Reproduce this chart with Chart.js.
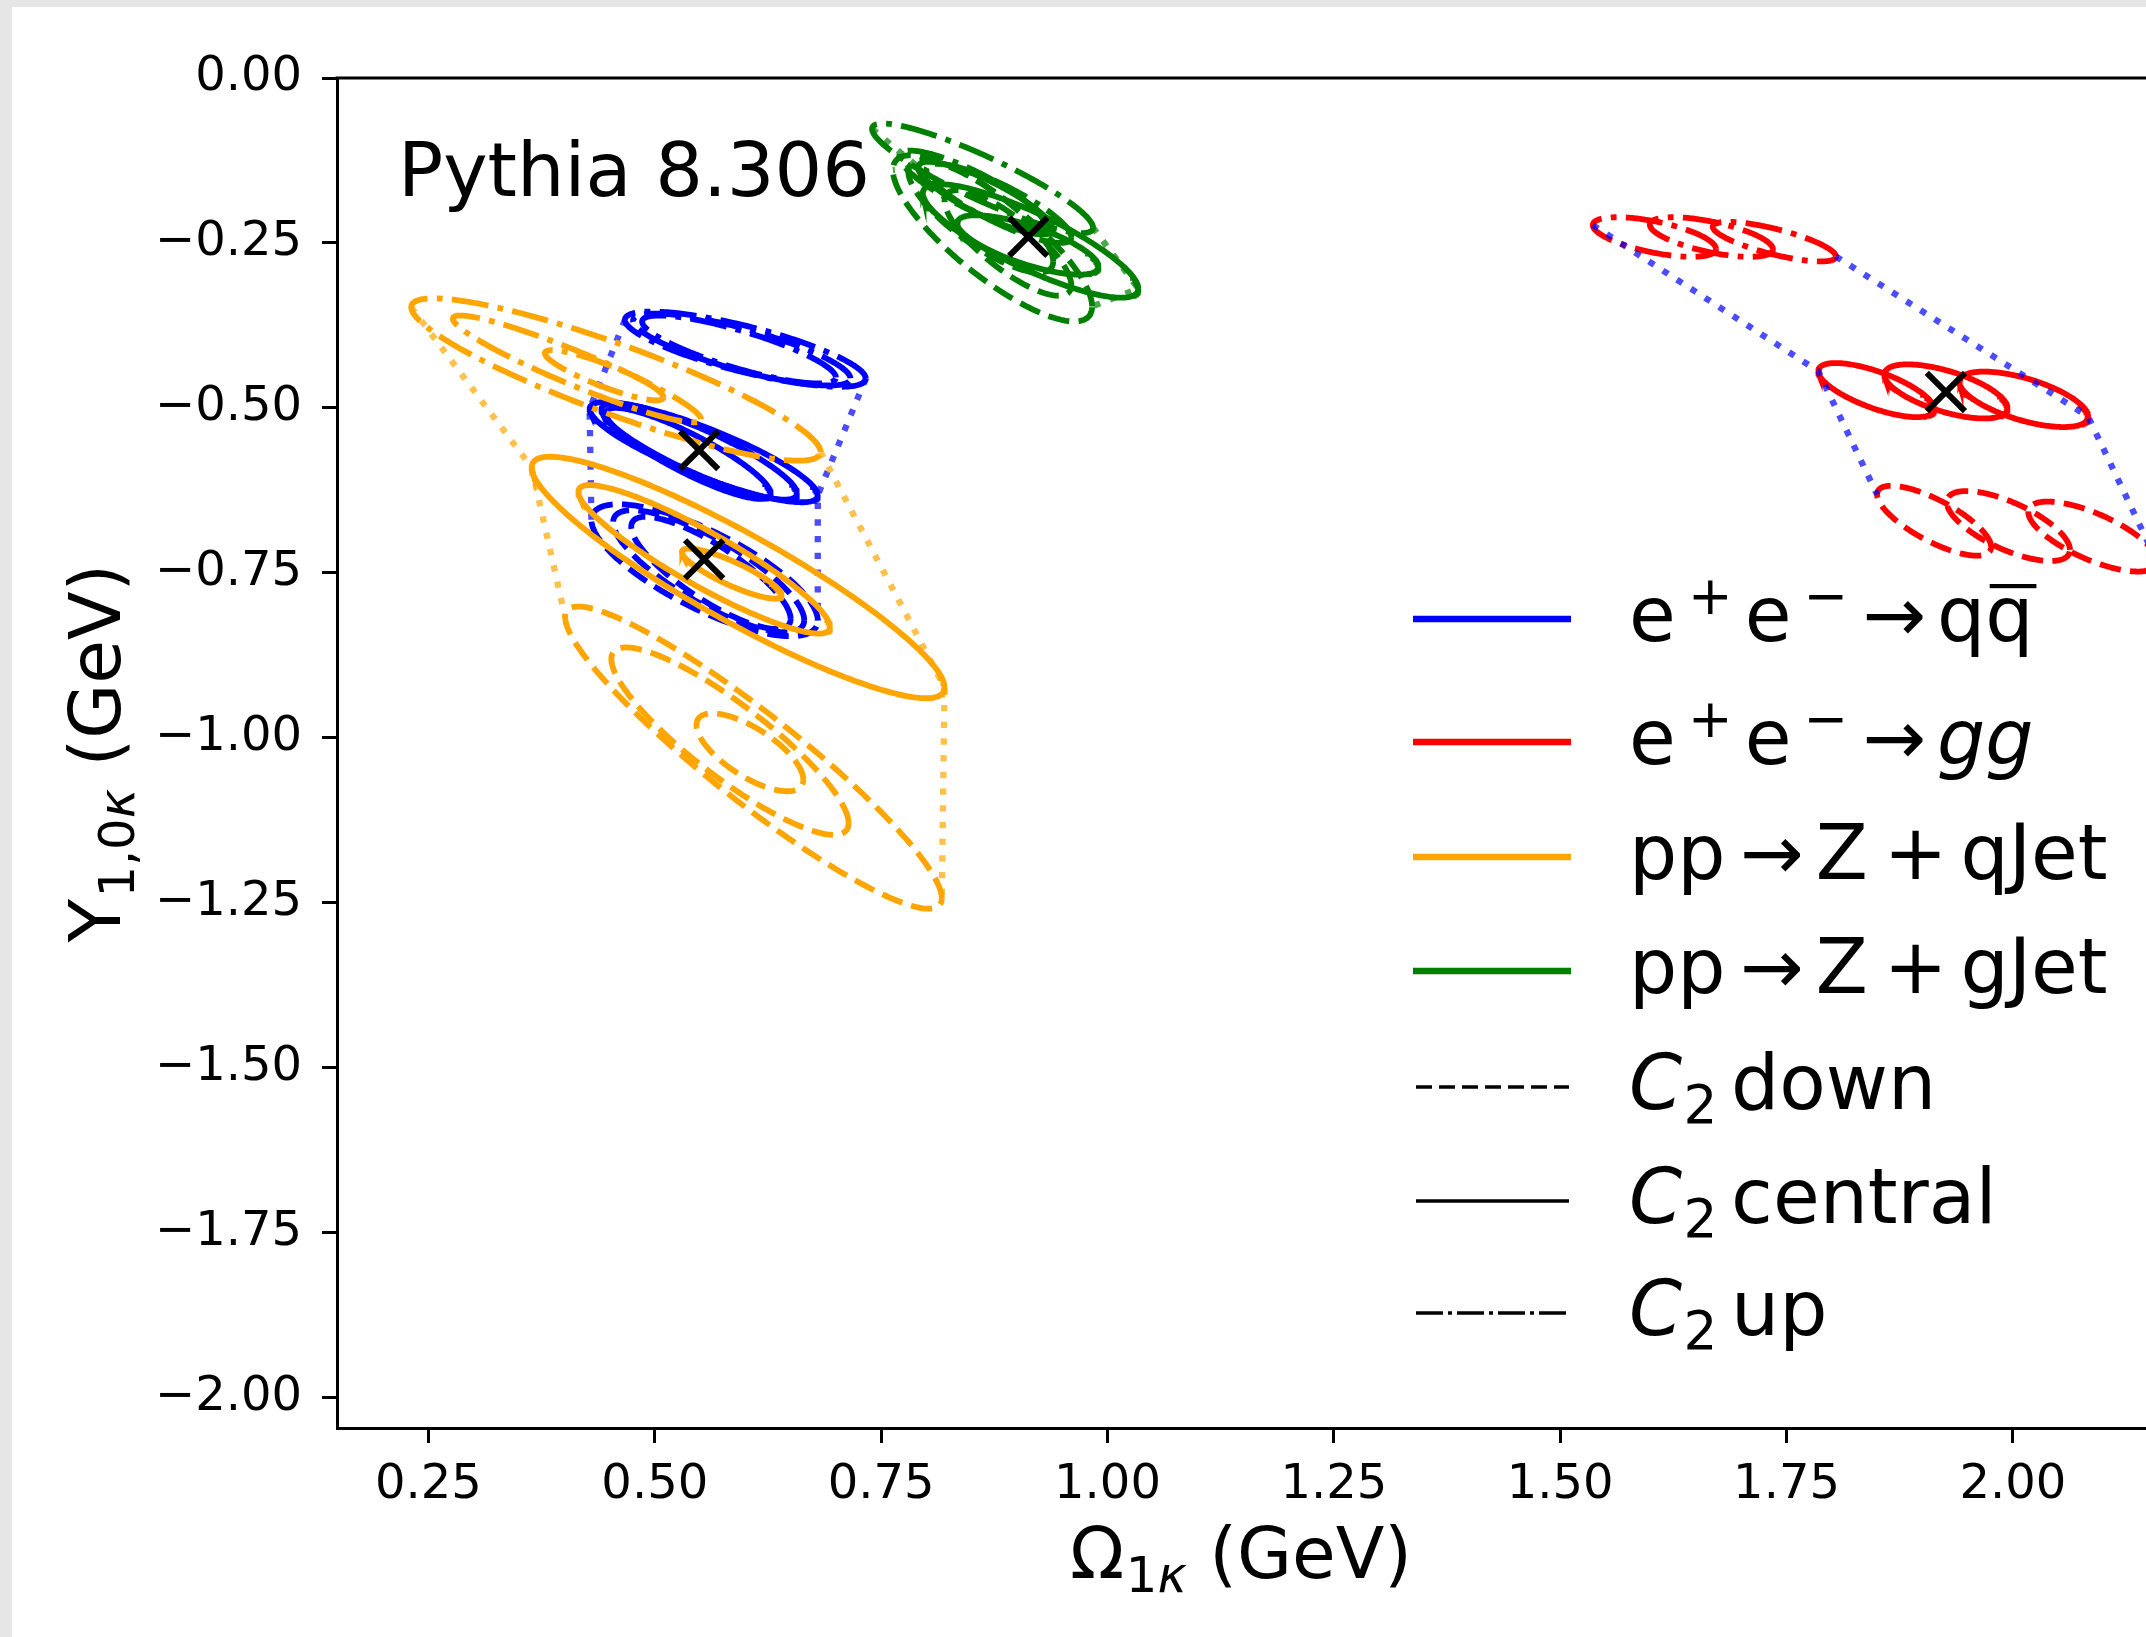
<!DOCTYPE html>
<html><head><meta charset="utf-8">
<script src="https://cdn.jsdelivr.net/npm/chart.js@4/dist/chart.umd.min.js"></script>
<style>
html,body{margin:0;padding:0;background:#e6e6e6;overflow:hidden;width:2146px;height:1637px;}
#wrap{position:absolute;left:12px;top:7px;width:2134px;height:1630px;background:#fff;}
canvas{display:block;}
</style></head><body>
<div id="wrap"><canvas id="c" width="2134" height="1630"></canvas></div>
<script>
// ---------------- data ----------------
const xTicks = [0.25, 0.50, 0.75, 1.00, 1.25, 1.50, 1.75, 2.00];
const yTicks = [0.00, -0.25, -0.50, -0.75, -1.00, -1.25, -1.50, -1.75, -2.00];
const xRange = [0.149, 2.147];
const yRange = [-2.046, 0.0];

const variants = ['down', 'central', 'up'];   // C2 variations, 3 ellipses each

// e+e- -> q qbar   (order: down x3, central x3, up x3)
const qqCx  = [0.555, 0.5595, 0.562,  0.554, 0.549, 0.537,  0.600, 0.596, 0.593];
const qqCy  = [-0.746, -0.7475, -0.750, -0.567, -0.566, -0.569, -0.411, -0.4115, -0.4115];
const qqSx  = [0.125, 0.1055, 0.088,  0.126, 0.108, 0.091,  0.133, 0.120, 0.107];
const qqSy  = [0.100, 0.0925, 0.085,  0.076, 0.073, 0.069,  0.057, 0.0545, 0.0515];
const qqRho = [-0.76, -0.80, -0.82,  -0.86, -0.87, -0.88,  -0.78, -0.80, -0.82];

// e+e- -> g g
const ggCx  = [1.913, 1.995, 2.088,  1.849, 1.926, 2.012,  1.604, 1.667, 1.7365];
const ggCy  = [-0.671, -0.679, -0.695, -0.473, -0.475, -0.487, -0.241, -0.241, -0.248];
const ggSx  = [0.063, 0.068, 0.071,  0.064, 0.068, 0.071,  0.068, 0.068, 0.068];
const ggSy  = [0.053, 0.053, 0.053,  0.041, 0.041, 0.042,  0.030, 0.030, 0.030];
const ggRho = [-0.75, -0.68, -0.70,  -0.70, -0.62, -0.62,  -0.60, -0.62, -0.75];

// pp -> Z + qJet
const qjCx  = [0.609, 0.583, 0.605,  0.592, 0.5545, 0.585,  0.457, 0.414, 0.444];
const qjCy  = [-1.030, -1.005, -1.022, -0.757, -0.7295, -0.751, -0.457, -0.441, -0.4505];
const qjSx  = [0.208, 0.131, 0.059,  0.228, 0.139, 0.055,  0.226, 0.137, 0.0655];
const qjSy  = [0.229, 0.142, 0.059,  0.183, 0.1125, 0.038, 0.123, 0.081, 0.038];
const qjRho = [-0.93, -0.875, -0.70, -0.91, -0.91, -0.86,  -0.89, -0.94, -0.88];

// pp -> Z + gJet
const gjCx  = [0.873, 0.860, 0.890,  0.865, 0.915, 0.912,  0.862, 0.850, 0.880];
const gjCy  = [-0.243, -0.210, -0.250, -0.182, -0.247, -0.253, -0.152, -0.170, -0.190];
const gjSx  = [0.110, 0.080, 0.070,  0.074, 0.119, 0.078,  0.122, 0.080, 0.080];
const gjSy  = [0.126, 0.085, 0.080,  0.055, 0.086, 0.045,  0.083, 0.060, 0.060];
const gjRho = [-0.82, -0.80, -0.80,  -0.85, -0.84, -0.73,  -0.90, -0.85, -0.85];

// central best-fit markers (qq, gg, qJet, gJet)
const markX = [0.549, 1.926, 0.5545, 0.9125];
const markY = [-0.564, -0.476, -0.7295, -0.2405];

const procNames = ['qq', 'gg', 'qJet', 'gJet'];
const procColors = ['#0000ff', '#ff0000', '#ffa500', '#008000'];
const envColors = ['rgba(0,0,255,0.7)', 'rgba(0,0,255,0.7)', 'rgba(255,165,0,0.7)', 'rgba(0,128,0,0.7)'];

const legendLabels = [
  [{t:'e'},{t:'+',sc:0.7,dy:0.36,gl:0.16},{t:'e',gl:0.16},{t:'\u2212',sc:0.7,dy:0.36,gl:0.16},{t:'\u2192',gl:0.19},{t:'q',gl:0.14},{t:'q',bar:true}],
  [{t:'e'},{t:'+',sc:0.7,dy:0.36,gl:0.16},{t:'e',gl:0.16},{t:'\u2212',sc:0.7,dy:0.36,gl:0.16},{t:'\u2192',gl:0.19},{t:'gg',it:true,gl:0.14}],
  [{t:'pp'},{t:'\u2192',gl:0.19},{t:'Z',gl:0.16},{t:'+',gl:0.21},{t:'qJet',gl:0.17}],
  [{t:'pp'},{t:'\u2192',gl:0.19},{t:'Z',gl:0.16},{t:'+',gl:0.21},{t:'gJet',gl:0.17}],
  [{t:'C',it:true},{t:'2',sc:0.7,dy:-0.18,gl:0.02},{t:'down',gl:0.18}],
  [{t:'C',it:true},{t:'2',sc:0.7,dy:-0.18,gl:0.02},{t:'central',gl:0.18}],
  [{t:'C',it:true},{t:'2',sc:0.7,dy:-0.18,gl:0.02},{t:'up',gl:0.18}]
];
const legendLineColors = ['#0000ff', '#ff0000', '#ffa500', '#008000', '#000000', '#000000', '#000000'];
const legendLineStyles = ['solid', 'solid', 'solid', 'solid', 'dashed', 'solid', 'dashdot'];

const xTitle = [{t:'\u03A9'},{t:'1',sc:0.7,dy:-0.2,gl:0.02},{t:'\u03BA',sc:0.7,dy:-0.2,it:true},{t:' (GeV)'}];
const yTitle = [{t:'\u03A5'},{t:'1,0',sc:0.7,dy:-0.2,gl:0.02},{t:'\u03BA',sc:0.7,dy:-0.2,it:true},{t:' (GeV)'}];
const annotText = 'Pythia 8.306';

// ---------------- styles ----------------
const FONT = '"DejaVu Sans"';
const LW = 5.8;
const dashOf = {solid: [], dashed: [21.5, 9.3], dashdot: [37, 9.3, 5.8, 9.3]};
const variantStyle = {down: 'dashed', central: 'solid', up: 'dashdot'};

function fmt(v) { const s = Math.abs(v).toFixed(2); return (v < -1e-9 ? '\u2212' : '') + s; }

function ellipsePts(cx, cy, sx, sy, rho) {
  const pts = [], n = 240, q = Math.sqrt(1 - rho * rho);
  for (let i = 0; i <= n; i++) {
    const t = 2 * Math.PI * i / n;
    pts.push({x: cx + sx * Math.cos(t), y: cy + sy * (rho * Math.cos(t) + q * Math.sin(t))});
  }
  return pts;
}

const procData = [
  [qqCx, qqCy, qqSx, qqSy, qqRho],
  [ggCx, ggCy, ggSx, ggSy, ggRho],
  [qjCx, qjCy, qjSx, qjSy, qjRho],
  [gjCx, gjCy, gjSx, gjSy, gjRho]
];

const datasets = [];
const drawOrder = [0, 1, 2, 3];
for (const p of drawOrder) {
  const [CX, CY, SX, SY, R] = procData[p];
  const leftPts = [], rightPts = [];
  for (let v = 0; v < 3; v++) {
    let li = -1, ri = -1;
    for (let k = 0; k < 3; k++) {
      const i = v * 3 + k;
      datasets.push({
        data: ellipsePts(CX[i], CY[i], SX[i], SY[i], R[i]),
        showLine: true, pointRadius: 0, borderColor: procColors[p], borderWidth: LW,
        borderDash: dashOf[variantStyle[variants[v]]], fill: false, tension: 0
      });
      if (li < 0 || CX[i] - SX[i] < CX[li] - SX[li]) li = i;
      if (ri < 0 || CX[i] + SX[i] > CX[ri] + SX[ri]) ri = i;
    }
    leftPts.push({x: CX[li] - SX[li], y: CY[li] - R[li] * SY[li]});
    rightPts.push({x: CX[ri] + SX[ri], y: CY[ri] + R[ri] * SY[ri]});
  }
  // envelope: up -> central -> down
  for (const pts of [leftPts, rightPts]) {
    datasets.push({
      data: [pts[2], pts[1], pts[0]], showLine: true, pointRadius: 0,
      borderColor: envColors[p], borderWidth: 6.3, borderDash: [6.3, 10.4], fill: false, tension: 0
    });
  }
}
datasets.push({
  data: markX.map((x, i) => ({x, y: markY[i]})), showLine: false,
  pointStyle: 'crossRot', pointRadius: 27, borderColor: '#000', backgroundColor: '#000', pointBorderWidth: 6, borderWidth: 6
});
datasets.forEach((d, i) => { d.order = datasets.length - i; });

// ---------------- rich text helper ----------------
function richItems(ctx, segs, size) {
  return segs.map(s => {
    const sz = size * (s.sc || 1);
    const font = (s.it ? 'italic ' : '') + sz + 'px ' + FONT;
    ctx.font = font;
    return {s, sz, font, w: ctx.measureText(s.t).width};
  });
}
function drawRich(ctx, x, y, segs, size, center) {
  const items = richItems(ctx, segs, size);
  const total = items.reduce((a, it) => a + it.w + (it.s.gl || 0) * size, 0);
  let cx = center ? x - total / 2 : x;
  ctx.textBaseline = 'alphabetic'; ctx.textAlign = 'left'; ctx.fillStyle = '#000';
  for (const it of items) {
    cx += (it.s.gl || 0) * size;
    ctx.font = it.font;
    ctx.fillText(it.s.t, cx, y - (it.s.dy || 0) * size);
    if (it.s.bar) ctx.fillRect(cx + 0.06 * size, y - 0.75 * size, it.w - 0.02 * size, 0.055 * size);
    cx += it.w;
  }
}

const decor = {
  id: 'decor',
  afterDraw(chart) {
    const ctx = chart.ctx, a = chart.chartArea;
    ctx.save();
    // top spine
    ctx.strokeStyle = '#000'; ctx.lineWidth = 3; ctx.setLineDash([]);
    ctx.beginPath(); ctx.moveTo(a.left - 1.5, a.top); ctx.lineTo(a.right, a.top); ctx.stroke();
    // annotation
    ctx.fillStyle = '#000'; ctx.font = '75px ' + FONT; ctx.textBaseline = 'alphabetic';
    ctx.fillText(annotText, 386, 189);
    // legend
    const rowsY = [612, 735, 850, 964, 1080, 1194, 1306];
    for (let i = 0; i < legendLabels.length; i++) {
      const y = rowsY[i];
      const st = legendLineStyles[i];
      ctx.strokeStyle = legendLineColors[i];
      ctx.lineWidth = i < 4 ? 6.5 : 3.6;
      ctx.setLineDash(st === 'dashed' ? [16, 7] : st === 'dashdot' ? [27, 5, 4, 5] : []);
      ctx.beginPath(); ctx.moveTo(i < 4 ? 1401 : 1404, y); ctx.lineTo(i < 4 ? 1559 : 1557, y); ctx.stroke();
      ctx.setLineDash([]);
      drawRich(ctx, 1617, y + 22, legendLabels[i], 76, false);
    }
    // axis titles
    drawRich(ctx, 1229, 1571, xTitle, 71, true);
    ctx.translate(108, 746); ctx.rotate(-Math.PI / 2);
    drawRich(ctx, 0, 0, yTitle, 71, true);
    ctx.restore();
  }
};

Chart.defaults.font.family = FONT;
new Chart(document.getElementById('c'), {
  type: 'scatter',
  data: {datasets},
  options: {
    responsive: false, animation: false, devicePixelRatio: 1,
    layout: {autoPadding: false, padding: {top: 71, left: 0, right: 0, bottom: 0}},
    plugins: {legend: {display: false}, tooltip: {enabled: false}},
    scales: {
      x: {
        type: 'linear', min: xRange[0], max: xRange[1],
        afterBuildTicks: s => { s.ticks = xTicks.map(v => ({value: v})); },
        afterFit: s => { s.height = 209; s.paddingLeft = 0; s.paddingRight = 0; },
        ticks: {callback: v => fmt(v), font: {size: 48}, color: '#000', padding: 14, maxRotation: 0, autoSkip: false},
        grid: {drawOnChartArea: false, drawTicks: true, tickLength: 15, tickWidth: 3, tickColor: '#000'},
        border: {display: true, color: '#000', width: 3}
      },
      y: {
        type: 'linear', min: yRange[0], max: yRange[1],
        afterBuildTicks: s => { s.ticks = yTicks.map(v => ({value: v})); },
        afterFit: s => { s.width = 325; s.paddingTop = 0; s.paddingBottom = 0; },
        ticks: {callback: v => fmt(v), font: {size: 48}, color: '#000', padding: 20, autoSkip: false},
        grid: {drawOnChartArea: false, drawTicks: true, tickLength: 15, tickWidth: 3, tickColor: '#000'},
        border: {display: true, color: '#000', width: 3}
      }
    }
  },
  plugins: [decor]
});
</script></body></html>
